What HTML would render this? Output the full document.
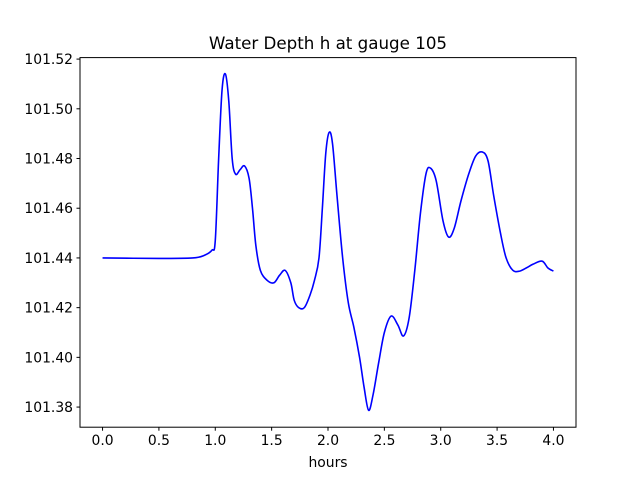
<!DOCTYPE html>
<html><head><meta charset="utf-8"><style>
body{margin:0;background:#fff;}
svg{display:block;font-family:"DejaVu Sans","Liberation Sans",sans-serif;}
</style></head><body>
<svg id="chart" width="640" height="480" xmlns="http://www.w3.org/2000/svg">
<rect width="640" height="480" fill="#fff"/>
<text x="328" y="49" font-size="16.7" text-anchor="middle">Water Depth h at gauge 105</text>
<g id="plot"></g>
<rect x="80" y="57.6" width="496" height="369.6" fill="none" stroke="#000" stroke-width="1"/>
<text x="328" y="467" font-size="13.9" text-anchor="middle">hours</text>
</svg>
<script>
const times=[0,0.5,0.8,0.9,0.97,1.0,1.03,1.06,1.09,1.12,1.15,1.18,1.22,1.26,1.30,1.33,1.36,1.40,1.46,1.52,1.57,1.62,1.67,1.70,1.74,1.79,1.84,1.88,1.92,1.95,1.98,2.01,2.04,2.08,2.13,2.18,2.23,2.28,2.32,2.36,2.40,2.45,2.50,2.56,2.62,2.67,2.72,2.77,2.82,2.87,2.91,2.96,3.02,3.07,3.12,3.18,3.25,3.31,3.37,3.42,3.47,3.53,3.58,3.64,3.70,3.76,3.82,3.90,3.95,4.0];
const depths=[101.440,101.4398,101.440,101.441,101.4431,101.447,101.48,101.5075,101.514,101.503,101.48,101.4737,101.4755,101.477,101.472,101.46,101.445,101.435,101.431,101.430,101.433,101.435,101.43,101.423,101.420,101.420,101.425,101.431,101.44,101.46,101.482,101.4905,101.486,101.465,101.44,101.422,101.412,101.40,101.388,101.3787,101.385,101.398,101.41,101.4166,101.413,101.4086,101.416,101.435,101.458,101.474,101.4761,101.471,101.455,101.4484,101.452,101.463,101.474,101.481,101.4826,101.479,101.465,101.45,101.44,101.435,101.4347,101.436,101.4375,101.4387,101.436,101.4347];
const xTicks=[0,0.5,1.0,1.5,2.0,2.5,3.0,3.5,4.0];
const xTickLabels=["0.0","0.5","1.0","1.5","2.0","2.5","3.0","3.5","4.0"];
const yTicks=[101.38,101.40,101.42,101.44,101.46,101.48,101.50,101.52];
const yTickLabels=["101.38","101.40","101.42","101.44","101.46","101.48","101.50","101.52"];
const NS="http://www.w3.org/2000/svg";
const X0=80,X1=576,Y0=427.2,Y1=57.6,xmin=-0.2,xmax=4.2,ymin=101.3719,ymax=101.5206;
const sx=v=>X0+(v-xmin)/(xmax-xmin)*(X1-X0);
const sy=v=>Y0-(v-ymin)/(ymax-ymin)*(Y0-Y1);
const g=document.getElementById('plot');
function mk(t,a){const e=document.createElementNS(NS,t);for(const k in a)e.setAttribute(k,a[k]);return e;}
xTicks.forEach((t,i)=>{
 const l=mk('line',{x1:sx(t),x2:sx(t),y1:Y0,y2:Y0+3.5,stroke:'#000'});
 
 
 g.appendChild(l);
 const tx=mk('text',{x:sx(t),y:Y0+18,'font-size':'13.9','text-anchor':'middle'});
 
 
 tx.textContent=xTickLabels[i];g.appendChild(tx);
});
yTicks.forEach((t,i)=>{
 const l=mk('line',{x1:X0-3.5,x2:X0,y1:sy(t),y2:sy(t),stroke:'#000'});
 
 
 g.appendChild(l);
 const tx=mk('text',{x:X0-7,y:sy(t)+5,'font-size':'13.9','text-anchor':'end'});
 
 
 tx.textContent=yTickLabels[i];g.appendChild(tx);
});
const P=times.map((t,i)=>[sx(t),sy(depths[i])]);
let d='M'+P[0][0]+','+P[0][1];
for(let i=0;i<P.length-1;i++){
 const p0=P[Math.max(i-1,0)],p1=P[i],p2=P[i+1],p3=P[Math.min(i+2,P.length-1)];
 const c1=[p1[0]+(p2[0]-p0[0])/6,p1[1]+(p2[1]-p0[1])/6];
 const c2=[p2[0]-(p3[0]-p1[0])/6,p2[1]-(p3[1]-p1[1])/6];
 d+=' C'+c1+' '+c2+' '+p2;
}
const path=mk('path',{d:d,fill:'none',stroke:'#0000ff','stroke-width':'1.6'});


g.appendChild(path);
</script>
</body></html>
